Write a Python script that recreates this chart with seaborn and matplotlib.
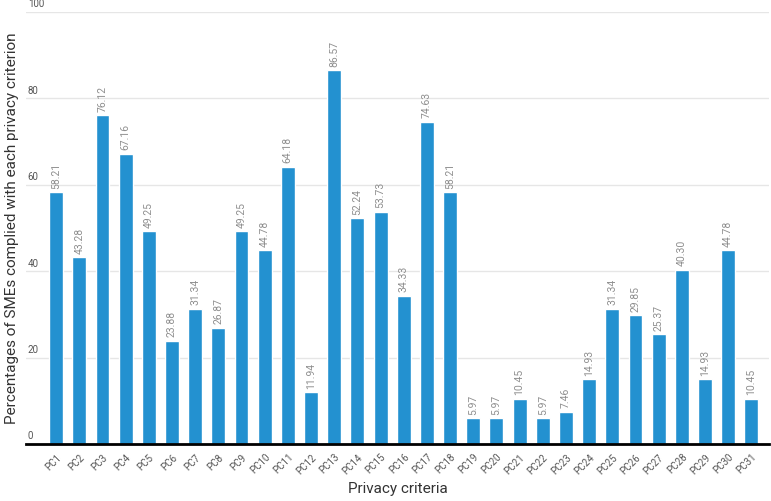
import matplotlib
matplotlib.use('Agg')
import matplotlib.pyplot as plt
import seaborn as sns
import pandas as pd

criteria = ['PC' + str(i) for i in range(1, 32)]
percentages = [58.21, 43.28, 76.12, 67.16, 49.25, 23.88, 31.34, 26.87, 49.25, 44.78,
               64.18, 11.94, 86.57, 52.24, 53.73, 34.33, 74.63, 58.21, 5.97, 5.97,
               10.45, 5.97, 7.46, 14.93, 31.34, 29.85, 25.37, 40.30, 14.93, 44.78, 10.45]
y_ticks = [0, 20, 40, 60, 80, 100]

df = pd.DataFrame({'criteria': criteria, 'pct': percentages})

sns.set_style('white')
plt.rcParams['font.family'] = ['Roboto', 'DejaVu Sans']

fig = plt.figure(figsize=(7.71, 5.01), dpi=100)
ax = fig.add_axes([0.034, 0.114, 0.964, 0.862])

sns.barplot(x='criteria', y='pct', data=df, color='#2391d0', width=0.6,
            saturation=1, ax=ax, zorder=3)

for i, v in enumerate(percentages):
    ax.text(i, v + 0.8, '%.2f' % v, rotation=90, ha='center', va='bottom',
            fontsize=7.5, color='#8f8f8f')

ax.set_ylim(0, 100)
ax.set_xlim(-1.29, 30.78)
ax.set_yticks(y_ticks)
ax.set_yticklabels([])
ax.tick_params(axis='y', length=0)
ax.grid(axis='y', color='#e6e6e6', linewidth=1, zorder=0)
for t in y_ticks:
    ax.text(0.002, t + 0.6, str(t), transform=ax.get_yaxis_transform(),
            ha='left', va='bottom', fontsize=7, color='#555555')

ax.set_xticks(range(len(criteria)))
ax.set_xticklabels(criteria, rotation=45, ha='right', rotation_mode='anchor',
                   fontsize=7, color='#555555')
ax.tick_params(axis='x', length=0, pad=6)

for s in ['top', 'right', 'left']:
    ax.spines[s].set_visible(False)
ax.spines['bottom'].set_color('black')
ax.spines['bottom'].set_linewidth(2)
ax.spines['bottom'].set_zorder(4)

ax.set_xlabel('Privacy criteria', fontsize=11, color='#333333', labelpad=4)
ax.set_ylabel('Percentages of SMEs complied with each privacy criterion',
              fontsize=11, color='#333333', labelpad=2)

plt.savefig('out.png', dpi=100)
